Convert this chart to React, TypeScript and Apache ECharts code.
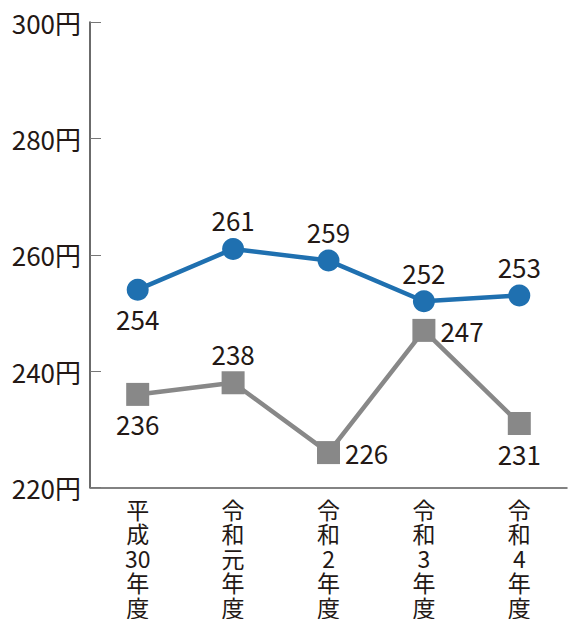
import React, { useEffect, useRef } from "react";
import * as echarts from "echarts";

const categories = ["平\n成\n30\n年\n度", "令\n和\n元\n年\n度", "令\n和\n2\n年\n度", "令\n和\n3\n年\n度", "令\n和\n4\n年\n度"];
const blueValues = [254, 261, 259, 252, 253];
const grayValues = [236, 238, 226, 247, 231];
const blueLabelPos = ["bottom", "top", "top", "top", "top"];
const grayLabelPos = ["bottom", "top", "right", "right", "bottom"];

const FONT = "'Noto Sans CJK JP', 'Noto Sans', sans-serif";
const TEXT = "#231815";

export default function App() {
  const ref = useRef<HTMLDivElement>(null);
  useEffect(() => {
    const chart = echarts.init(ref.current!, null, { renderer: "svg" });
    const mk = (vals: number[], pos: string[]) =>
      vals.map((v, i) => ({
        value: v,
        label: { position: pos[i] },
      }));
    chart.setOption({
      animation: false,
      grid: { left: 90, right: 1, top: 22, bottom: 130, containLabel: false },
      xAxis: {
        type: "category",
        data: categories,
        boundaryGap: true,
        axisLine: { lineStyle: { color: "#5a5a5a", width: 1.5 } },
        axisTick: { inside: true, length: 10, lineStyle: { color: "#777", width: 1 } },
        axisLabel: {
          color: TEXT,
          fontFamily: FONT,
          fontSize: 23,
          lineHeight: 24.5,
          margin: 9,
        },
      },
      yAxis: {
        type: "value",
        min: 220,
        max: 300,
        interval: 20,
        axisLine: { show: true, lineStyle: { color: "#3a3a3a", width: 1.5 } },
        axisTick: { show: true, inside: true, length: 11, lineStyle: { color: "#777", width: 1 } },
        splitLine: { show: false },
        axisLabel: {
          color: TEXT,
          fontFamily: FONT,
          fontSize: 26,
          margin: 9,
          formatter: (v: number) => v + "円",
        },
      },
      series: [
        {
          type: "line",
          data: mk(grayValues, grayLabelPos),
          symbol: "rect",
          symbolSize: 23,
          lineStyle: { color: "#888888", width: 4.5 },
          itemStyle: { color: "#888888" },
          label: {
            show: true,
            color: TEXT,
            fontFamily: FONT,
            fontSize: 26,
            distance: 5,
          },
          z: 2,
        },
        {
          type: "line",
          data: mk(blueValues, blueLabelPos),
          symbol: "circle",
          symbolSize: 22,
          lineStyle: { color: "#1f70b0", width: 4.5 },
          itemStyle: { color: "#1f70b0" },
          label: {
            show: true,
            color: TEXT,
            fontFamily: FONT,
            fontSize: 26,
            distance: 5,
          },
          z: 3,
        },
      ],
    });
    return () => chart.dispose();
  }, []);
  return <div ref={ref} style={{ width: 568, height: 619, position: "absolute", left: 0, top: 0 }} />;
}
